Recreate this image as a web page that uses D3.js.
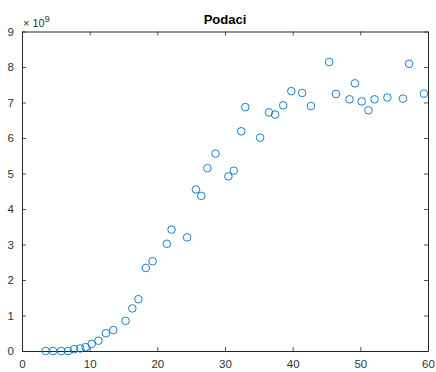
<!DOCTYPE html>
<html lang="en">
<head>
<meta charset="utf-8">
<script src="https://cdn.jsdelivr.net/npm/d3@7/dist/d3.min.js"></script>
<style>
  body { margin: 0; background: #fff; }
  text { font-family: "Liberation Sans", Arial, sans-serif; }
</style>
<title>Podaci</title>
</head>
<body>
<script>
// values (y in units of 1e9)
var xVals = [3.5, 4.6, 5.8, 6.8, 7.7, 8.6, 9.4, 10.3, 11.3, 12.4, 13.5, 15.3, 16.3, 17.2, 18.3, 19.3,
  21.4, 22.1, 24.4, 25.7, 26.5, 27.4, 28.6, 30.5, 31.3, 32.4, 33.0, 35.2, 36.5, 37.4, 38.6, 39.8,
  41.4, 42.7, 45.4, 46.4, 48.4, 49.2, 50.2, 51.2, 52.1, 54.0, 56.3, 57.2, 59.4];
var yVals = [0, 0, 0, 0, 0.05, 0.07, 0.11, 0.2, 0.29, 0.5, 0.59, 0.85, 1.2, 1.46, 2.34, 2.53,
  3.02, 3.42, 3.2, 4.55, 4.37, 5.15, 5.56, 4.92, 5.08, 6.19, 6.87, 6.01, 6.72, 6.66, 6.92, 7.32,
  7.27, 6.9, 8.14, 7.24, 7.09, 7.54, 7.03, 6.78, 7.09, 7.14, 7.11, 8.09, 7.25];
var xTicks = [0, 10, 20, 30, 40, 50, 60];
var yTicks = [0, 1, 2, 3, 4, 5, 6, 7, 8, 9];

var w = 436, h = 372;
var padLeft = 22, padRight = 428, padTop = 31.5, padBottom = 351;
var axisColor = "#262626";

var svg = d3.select("body").append("svg")
  .attr("width", w)
  .attr("height", h);

var x = d3.scaleLinear().domain([0, 60]).range([padLeft, padRight]);
var y = d3.scaleLinear().domain([0, 9]).range([padBottom, padTop]);

var data = xVals.map(function(v, i) { return {x: v, y: yVals[i]}; });

// axes with inward ticks, MATLAB style box
var xAxis = d3.axisBottom(x).tickValues(xTicks).tickSizeInner(-4).tickSizeOuter(0).tickPadding(9);
var yAxis = d3.axisLeft(y).tickValues(yTicks).tickSizeInner(-4).tickSizeOuter(0).tickPadding(8);
var xTop = d3.axisTop(x).tickValues(xTicks).tickSizeInner(-4).tickSizeOuter(0).tickFormat("");
var yRight = d3.axisRight(y).tickValues(yTicks).tickSizeInner(-4).tickSizeOuter(0).tickFormat("");

function styleAxis(g) {
  g.select(".domain").attr("stroke", axisColor).attr("stroke-width", 1);
  g.selectAll(".tick line").attr("stroke", axisColor).attr("stroke-width", 0.8);
  g.selectAll(".tick text").attr("fill", "#333")
    .style("font-size", "11.5px").style("font-family", "'Liberation Sans', Arial, sans-serif");
}

svg.append("g").attr("transform", "translate(0," + padBottom + ")").call(xAxis).call(styleAxis);
svg.append("g").attr("transform", "translate(" + padLeft + ",0)").call(yAxis).call(styleAxis);
svg.append("g").attr("transform", "translate(0," + padTop + ")").call(xTop).call(styleAxis);
svg.append("g").attr("transform", "translate(" + padRight + ",0)").call(yRight).call(styleAxis);

// exponent label
var expo = svg.append("text")
  .attr("x", 23)
  .attr("y", 27)
  .attr("fill", "#333")
  .style("font-size", "11px");
expo.append("tspan").text("\u00d7 10");
expo.append("tspan").attr("dy", -5).style("font-size", "9px").text("9");

// title
svg.append("text")
  .attr("x", (padLeft + padRight) / 2)
  .attr("y", 24)
  .attr("text-anchor", "middle")
  .attr("fill", "#000")
  .style("font-size", "13px")
  .style("font-weight", "bold")
  .text("Podaci");

svg.append("g").selectAll("circle")
  .data(data)
  .enter()
  .append("circle")
  .attr("cx", function(d) { return x(d.x); })
  .attr("cy", function(d) { return y(d.y); })
  .attr("r", 3.8)
  .attr("fill", "none")
  .attr("stroke", "#0072BD")
  .attr("stroke-width", 0.9);
</script>
</body>
</html>
